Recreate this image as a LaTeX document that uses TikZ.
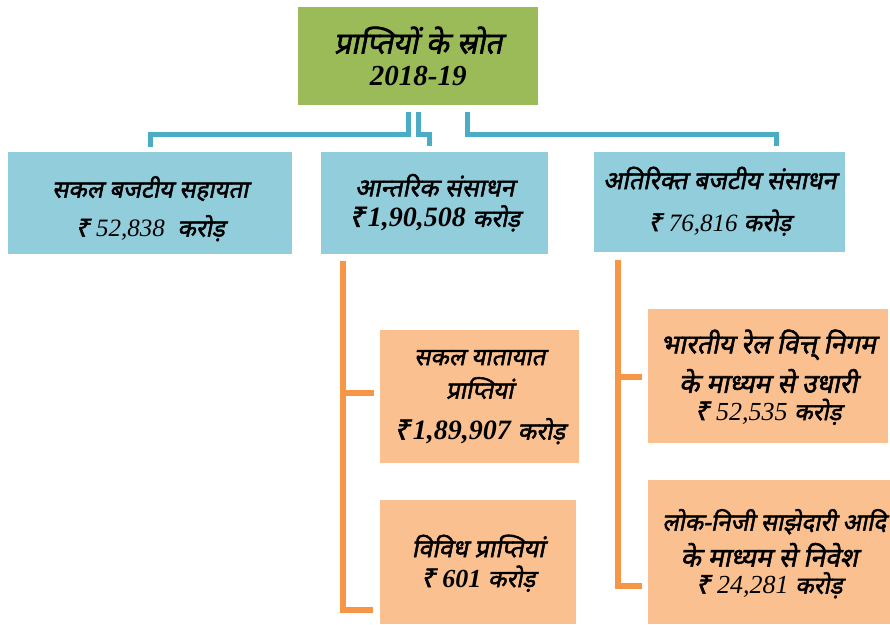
\documentclass[tikz,border=0pt]{standalone}
\usepackage{fontspec}
\setmainfont{Liberation Serif}
\newfontfamily\hin[Script=Devanagari,FakeSlant=0.2,FakeBold=2]{Noto Sans}
\definecolor{grn}{HTML}{9BBB59}
\definecolor{lblue}{HTML}{92CDDC}
\definecolor{dblue}{HTML}{4BACC6}
\definecolor{peach}{HTML}{FAC090}
\definecolor{orng}{HTML}{F79646}
\newcommand\hi[1]{{\hin #1}}
\newcommand\nb[1]{{\bfseries\itshape #1}}
\newcommand\nit[1]{{\itshape #1}}
\newcommand\rup{{\hin ₹}}
\newcommand\kr{{\hin\fontsize{24}{26}\selectfont करोड़}}
\begin{document}
\begin{tikzpicture}[x=1pt,y=-1pt,
  bx/.style={anchor=north west, inner sep=0pt},
  txt/.style={inner sep=0pt, align=center},
  bl/.style={draw=dblue, line width=5pt},
  ol/.style={draw=orng, line width=6pt}]
\useasboundingbox[fill=white] (0,0) rectangle (890,624);
% boxes
\node[bx, fill=grn, minimum width=240pt, minimum height=98pt] (g) at (298,7) {};
\node[bx, fill=lblue, minimum width=284pt, minimum height=102pt] (L) at (8,152) {};
\node[bx, fill=lblue, minimum width=227pt, minimum height=102pt] (M) at (321,152) {};
\node[bx, fill=lblue, minimum width=251pt, minimum height=100pt] (R) at (594,152) {};
\node[bx, fill=peach, minimum width=199pt, minimum height=133pt] (A) at (380,330) {};
\node[bx, fill=peach, minimum width=196pt, minimum height=124pt] (B) at (380,500) {};
\node[bx, fill=peach, minimum width=240pt, minimum height=134pt] (C) at (648,309) {};
\node[bx, fill=peach, minimum width=242pt, minimum height=144pt] (D) at (648,480) {};
% texts
\node[txt, font=\fontsize{30}{30}\selectfont] (gt) at ([yshift=0pt]g.center)
  {\hi{प्राप्तियों के स्रोत}\\[2pt] {\fontsize{29}{30}\selectfont\nb{2018-19}}};
\node[txt, font=\fontsize{24}{26}\selectfont] (Lt) at ([yshift=-5.5pt]L.center)
  {\hi{सकल बजटीय सहायता}\\[13pt]{\fontsize{25}{28}\selectfont\rup\ \nit{52,838}\ \ \kr}};
\node[txt, font=\fontsize{25}{26}\selectfont] (Mt) at ([yshift=0.5pt]M.center)
  {\hi{आन्तरिक संसाधन}\\[4.5pt]{\fontsize{28}{28}\selectfont\rup\hspace{2.5pt}\nb{1,90,508} \kr\hspace{12pt}}};
\node[txt, font=\fontsize{25}{26}\selectfont] (Rt) at ([yshift=1pt]R.center)
  {\hi{अतिरिक्त बजटीय संसाधन}\\[16pt]{\fontsize{25}{28}\selectfont\rup\ \nit{76,816} \kr}};
\node[txt, font=\fontsize{24}{26}\selectfont] (At) at ([yshift=-0.5pt]A.center)
  {\hi{सकल यातायात}\\[7.5pt] \hi{प्राप्तियां}\\[15pt]{\fontsize{28}{28}\selectfont\rup\hspace{2.5pt}\nb{1,89,907} \kr}};
\node[txt, font=\fontsize{25}{26}\selectfont] (Bt) at ([yshift=-1pt]B.center)
  {\hi{विविध प्राप्तियां}\\[4pt]{\fontsize{26}{28}\selectfont\rup\ \nb{601} \kr}};
\node[txt, font=\fontsize{26.5}{27}\selectfont] (Ct) at ([yshift=-1pt]C.center)
  {\hi{भारतीय रेल वित्त् निगम}\\[8pt] \hi{के माध्यम से उधारी}\\[0.5pt]{\fontsize{26}{28}\selectfont\rup\ \nit{52,535} \kr}};
\node[txt, font=\fontsize{26.5}{27}\selectfont] (Dt) at ([yshift=-1.5pt]D.center)
  {\hspace{10pt}{\fontsize{24}{27}\selectfont\hi{लोक-निजी साझेदारी आदि}}\\[7.5pt] \hi{के माध्यम से निवेश}\\[0pt]{\fontsize{26}{28}\selectfont\rup\ \nit{24,281} \kr}};
% blue connectors
\draw[bl] ([xshift=-9.5pt,yshift=-7pt]g.south) -- ++(0,22.5) -| ([yshift=5pt]L.north);
\draw[bl] ([xshift=0.5pt,yshift=-7pt]g.south) -- ++(0,22.5) -| ([xshift=-5.5pt,yshift=6pt]M.north);
\draw[bl] ([xshift=49.5pt,yshift=-7pt]g.south) -- ++(0,22.5) -| ([xshift=57pt,yshift=6pt]R.north);
% orange connectors
\draw[ol] ([xshift=21.5pt,yshift=-7pt]M.south west) |- ([xshift=-6pt,yshift=3.5pt]A.west);
\draw[ol] ([xshift=21.5pt,yshift=-7pt]M.south west) |- ([xshift=-7pt,yshift=14.5pt]B.south west);
\draw[ol] ([xshift=23.5pt,yshift=-8pt]R.south west) |- ([xshift=-6pt,yshift=-1pt]C.west);
\draw[ol] ([xshift=23.5pt,yshift=-8pt]R.south west) |- ([xshift=-6pt,yshift=38.5pt]D.south west);
\end{tikzpicture}
\end{document}
